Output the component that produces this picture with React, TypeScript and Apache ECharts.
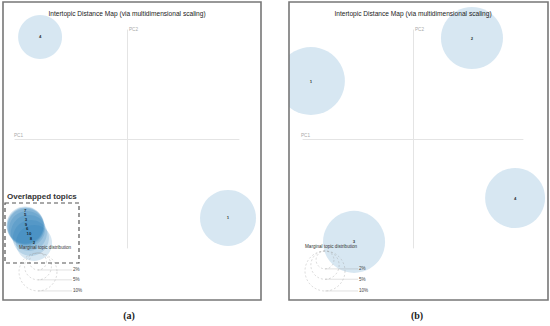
import React, { useEffect, useRef } from "react";
import * as echarts from "echarts";

const TITLE = "Intertopic Distance Map (via multidimensional scaling)";

// Panel (a): topic ids, PC1, PC2, marginal share (%)
const topicsA = ["1", "4", "7", "5", "3", "9", "6", "10", "8", "2"];
const pc1A = [0.451, -0.388, -0.455, -0.455, -0.451, -0.451, -0.446, -0.438, -0.429, -0.415];
const pc2A = [-0.362, 0.468, -0.394, -0.399, -0.399, -0.404, -0.413, -0.431, -0.454, -0.477];
const shareA = [21.8, 13.4, 9.5, 9.5, 9.5, 9.5, 9.0, 9.0, 9.0, 9.0];

// Panel (b)
const topicsB = ["1", "2", "3", "4"];
const pc1B = [-0.464, 0.268, -0.268, 0.464];
const pc2B = [0.266, 0.463, -0.472, -0.271];
const shareB = [28.9, 24.1, 24.1, 22.5];

const legendPcts = [2, 5, 10];
const legendLabels = ["2%", "5%", "10%"];

const kA = 6.0;
const kB = 6.32;

const SANS = "Liberation Sans, Arial, sans-serif";

export default function App() {
  const ref = useRef<HTMLDivElement>(null);
  useEffect(() => {
    if (!ref.current) return;
    const chart = echarts.init(ref.current, undefined, { renderer: "svg" });

    const axisX = (gridIndex: number) => ({
      type: "value",
      gridIndex,
      min: -0.5,
      max: 0.5,
      axisLine: { show: true, onZero: true, lineStyle: { color: "#e4e4e4", width: 1 } },
      axisTick: { show: false },
      axisLabel: { show: false },
      splitLine: { show: false },
    });

    const mkData = (ids: string[], x: number[], y: number[], s: number[]) =>
      ids.map((id, i) => ({ name: id, value: [x[i], y[i], s[i]] }));

    const scatter = (idx: number, data: any[], k: number, labelLayout?: any) => ({
      type: "scatter",
      xAxisIndex: idx,
      yAxisIndex: idx,
      data,
      symbolSize: (v: number[]) => 2 * k * Math.sqrt(v[2]),
      itemStyle: { color: "rgba(31,119,180,0.22)" },
      label: {
        show: true,
        position: "inside",
        formatter: (p: any) => p.name,
        fontSize: 4.3,
        fontWeight: "bold",
        color: "#000",
        fontFamily: SANS,
      },
      labelLayout,
      emphasis: { disabled: true },
      z: 2,
    });

    // stack labels of the overlapped topics in a narrow column so they stay legible
    const stackLayout = (p: any) => {
      if (p.dataIndex < 2) return {};
      const i = p.dataIndex - 2;
      const target = 210 + i * 4.7;
      const cy = p.labelRect.y + p.labelRect.height / 2;
      return { dy: target - cy };
    };

    const legend = (cx: number, topY: number, k: number, x2: number, textX: number, textY: number) => {
      const els: any[] = [
        {
          type: "text",
          x: textX,
          y: textY,
          style: { text: "Marginal topic distribution", fontSize: 4.6, fill: "#333", fontFamily: SANS, verticalAlign: "middle" },
          z: 60,
        },
      ];
      legendPcts.forEach((p, i) => {
        const r = k * Math.sqrt(p);
        els.push({
          type: "circle",
          shape: { cx, cy: topY + r, r },
          style: { fill: "none", stroke: "#999", lineWidth: 0.5, lineDash: [2, 2], opacity: 0.7 },
          z: 55,
        });
        els.push({
          type: "line",
          shape: { x1: cx, y1: topY + 2 * r, x2, y2: topY + 2 * r },
          style: { stroke: "#808080", opacity: 0.3, lineWidth: 0.8 },
          z: 55,
        });
        els.push({
          type: "text",
          x: x2 + 1,
          y: topY + 2 * r,
          style: { text: legendLabels[i], fontSize: 4.6, fill: "#444", fontFamily: SANS, verticalAlign: "middle" },
          z: 60,
        });
      });
      return els;
    };

    const graphics: any[] = [
      // gap cover (clip circles at panel borders)
      { type: "rect", shape: { x: 262, y: 0, width: 27, height: 326 }, style: { fill: "#fff" }, z: 100 },
      { type: "rect", shape: { x: 0, y: 0, width: 3, height: 326 }, style: { fill: "#fff" }, z: 100 },
      // panel borders
      { type: "rect", shape: { x: 3, y: 2, width: 258, height: 298 }, style: { fill: "none", stroke: "#777", lineWidth: 1.6 }, z: 101 },
      { type: "rect", shape: { x: 289, y: 2, width: 259, height: 298 }, style: { fill: "none", stroke: "#777", lineWidth: 1.6 }, z: 101 },
      // titles
      { type: "text", x: 127, y: 13, style: { text: TITLE, fontSize: 6.6, fill: "#222", fontFamily: SANS, align: "center", verticalAlign: "middle" }, z: 60 },
      { type: "text", x: 413, y: 13, style: { text: TITLE, fontSize: 6.6, fill: "#222", fontFamily: SANS, align: "center", verticalAlign: "middle" }, z: 60 },
      // axis names
      { type: "text", x: 14, y: 135, style: { text: "PC1", fontSize: 4.6, fill: "#aaa", fontFamily: SANS, verticalAlign: "middle" }, z: 60 },
      { type: "text", x: 129, y: 29, style: { text: "PC2", fontSize: 4.6, fill: "#aaa", fontFamily: SANS, verticalAlign: "middle" }, z: 60 },
      { type: "text", x: 301, y: 135, style: { text: "PC1", fontSize: 4.6, fill: "#aaa", fontFamily: SANS, verticalAlign: "middle" }, z: 60 },
      { type: "text", x: 415, y: 29, style: { text: "PC2", fontSize: 4.6, fill: "#aaa", fontFamily: SANS, verticalAlign: "middle" }, z: 60 },
      // overlapped topics annotation
      { type: "text", x: 7, y: 196, style: { text: "Overlapped topics", fontSize: 8, fontWeight: "bold", fill: "#333", fontFamily: SANS, verticalAlign: "middle" }, z: 60 },
      { type: "rect", shape: { x: 5, y: 203, width: 74, height: 60 }, style: { fill: "none", stroke: "#555", lineWidth: 1.2, lineDash: [4, 3] }, z: 60 },
      // captions
      { type: "text", x: 129, y: 315, style: { text: "(a)", fontSize: 10, fontWeight: "bold", fill: "#222", fontFamily: "Liberation Serif, DejaVu Serif, serif", align: "center", verticalAlign: "middle" }, z: 60 },
      { type: "text", x: 417, y: 315, style: { text: "(b)", fontSize: 10, fontWeight: "bold", fill: "#222", fontFamily: "Liberation Serif, DejaVu Serif, serif", align: "center", verticalAlign: "middle" }, z: 60 },
      ...legend(38, 253, kA, 72, 19, 247),
      ...legend(325, 251, kB, 358, 305, 246),
    ];

    chart.setOption({
      animation: false,
      backgroundColor: "#fff",
      grid: [
        { left: 15, top: 30, width: 224, height: 218 },
        { left: 303, top: 30, width: 220, height: 218 },
      ],
      xAxis: [axisX(0), axisX(1)],
      yAxis: [axisX(0), axisX(1)],
      series: [
        scatter(0, mkData(topicsA, pc1A, pc2A, shareA), kA, stackLayout),
        scatter(1, mkData(topicsB, pc1B, pc2B, shareB), kB),
      ],
      graphic: graphics,
    });
    return () => chart.dispose();
  }, []);
  return <div ref={ref} style={{ position: "absolute", left: 0, top: 0, width: 550, height: 326 }} />;
}
